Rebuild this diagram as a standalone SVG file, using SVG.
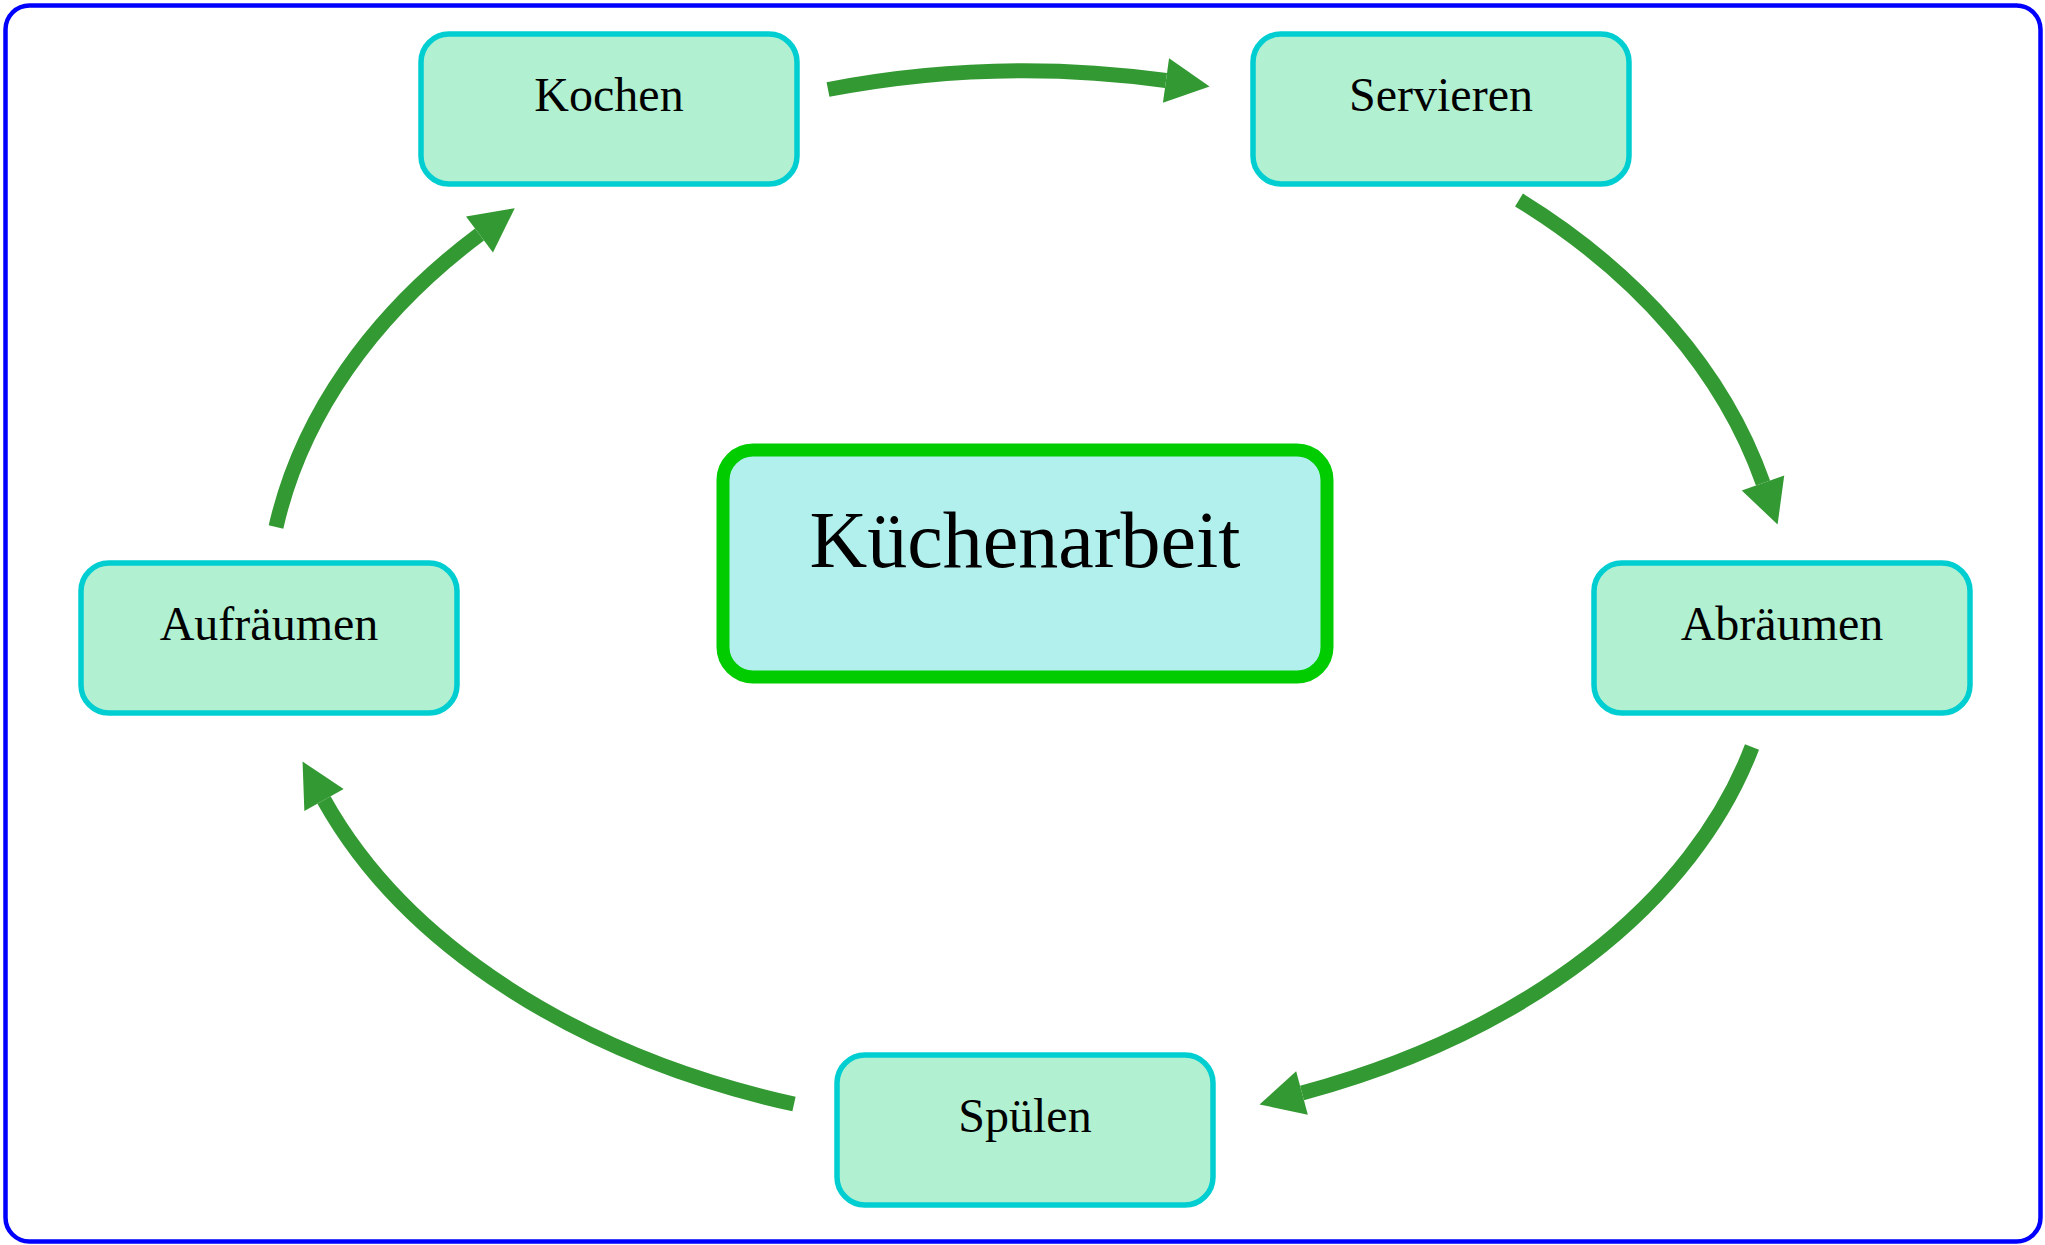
<svg xmlns="http://www.w3.org/2000/svg" width="2045" height="1245" viewBox="0 0 2045 1245">
  <style>
    .node rect { fill: #B2F0D2; stroke: #00CED1; stroke-width: 5.5; }
    .node text { font-family: "Liberation Serif", "Times New Roman", serif; font-size: 48px; fill: #000; text-anchor: middle; }
    .center rect { fill: #B2F0EE; stroke: #00CC00; stroke-width: 13; }
    .center text { font-family: "Liberation Serif", "Times New Roman", serif; font-size: 80px; fill: #000; text-anchor: middle; }
    .edge { fill: none; stroke: #339933; stroke-width: 15; stroke-linecap: butt; marker-end: url(#arrow); }
  </style>
  <defs>
    <marker id="arrow" markerUnits="userSpaceOnUse" markerWidth="46" markerHeight="46" refX="0" refY="22.5" orient="auto" viewBox="0 0 46 46" overflow="visible">
      <path d="M0,0 L44,22.5 L0,45 Z" fill="#339933"/>
    </marker>
  </defs>
  <rect x="0" y="0" width="2045" height="1245" fill="#FFFFFF"/>
  <rect id="border" x="5.5" y="5.5" width="2035" height="1236" rx="24" ry="24" fill="#FFFFFF" stroke="#0000FF" stroke-width="4.5"/>

  <g id="connectors">
    <path class="edge" d="M828,89.5 A760,549 0 0 1 1166,80.5"/>
    <path class="edge" d="M1519,200 A760,549 0 0 1 1763,483"/>
    <path class="edge" d="M1752,747 A751,509 0 0 1 1302,1093"/>
    <path class="edge" d="M794,1104 A751,509 0 0 1 324,800"/>
    <path class="edge" d="M276,527 A760,549 0 0 1 479.5,234.5"/>
  </g>

  <g id="center" class="center">
    <rect x="723" y="450" width="604" height="227" rx="30" ry="30"/>
    <text x="1025" y="567">Küchenarbeit</text>
  </g>
  <g id="kochen" class="node">
    <rect x="421" y="34" width="376" height="150" rx="28" ry="28"/>
    <text x="609" y="111">Kochen</text>
  </g>
  <g id="servieren" class="node">
    <rect x="1253" y="34" width="376" height="150" rx="28" ry="28"/>
    <text x="1441" y="111">Servieren</text>
  </g>
  <g id="abraeumen" class="node">
    <rect x="1594" y="563" width="376" height="150" rx="28" ry="28"/>
    <text x="1782" y="640">Abräumen</text>
  </g>
  <g id="spuelen" class="node">
    <rect x="837" y="1055" width="376" height="150" rx="28" ry="28"/>
    <text x="1025" y="1132">Spülen</text>
  </g>
  <g id="aufraeumen" class="node">
    <rect x="81" y="563" width="376" height="150" rx="28" ry="28"/>
    <text x="269" y="640">Aufräumen</text>
  </g>
</svg>
